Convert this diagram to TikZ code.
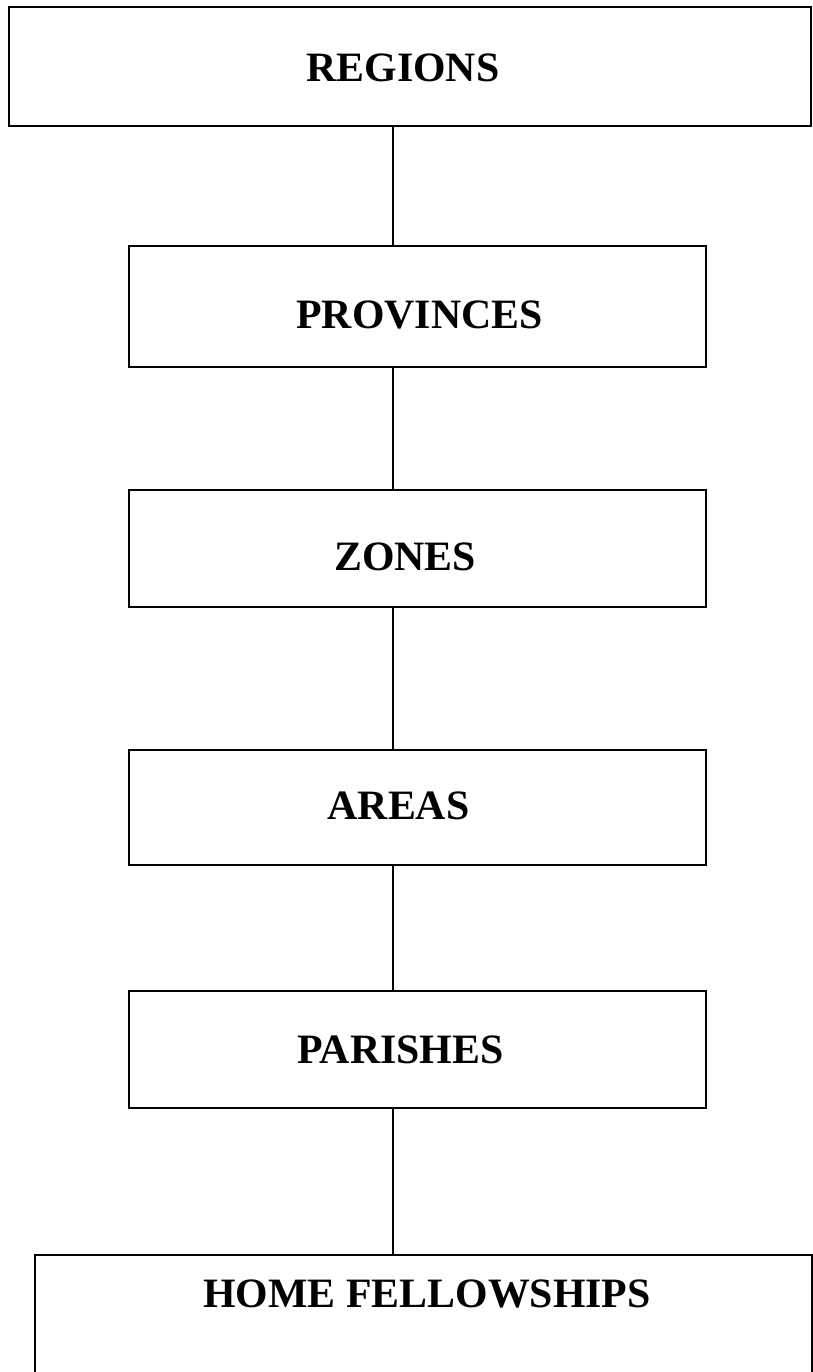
\documentclass[tikz,border=0pt]{standalone}
\usepackage{fontspec}
\setmainfont{Liberation Serif}
\tikzset{
  unit/.style={draw, line width=1.1pt, inner sep=0pt},
  tag/.style={inner sep=0pt, font=\fontsize{23.8}{28}\selectfont\bfseries},
  link/.style={line width=0.8pt}
}
\begin{document}
\begin{tikzpicture}[x=0.02cm,y=-0.02cm]
\useasboundingbox (0,0) rectangle (812,1372);

% boxes
\node[unit, minimum width=16.04cm, minimum height=2.38cm] (regions) at (410,66.5) {};
\node[unit, minimum width=11.54cm, minimum height=2.42cm] (provinces) at (417.5,306.5) {};
\node[unit, minimum width=11.54cm, minimum height=2.34cm] (zones) at (417.5,548.5) {};
\node[unit, minimum width=11.54cm, minimum height=2.30cm] (areas) at (417.5,807.5) {};
\node[unit, minimum width=11.54cm, minimum height=2.34cm] (parishes) at (417.5,1049.5) {};
\node[draw=none, minimum width=15.54cm, minimum height=2.4cm] (home) at (423.5,1315) {};

% labels
\node[tag] (regions text) at (403,68) {REGIONS};
\node[tag] (provinces text) at (419.5,315) {PROVINCES};
\node[tag] (zones text) at (405,557) {ZONES};
\node[tag] (areas text) at (398.5,805.5) {AREAS};
\node[tag] (parishes text) at (400.5,1050) {PARISHES};
\node[tag] (home text) at (427,1294) {HOME FELLOWSHIPS};

% open box at the bottom
\draw[line width=1.1pt] ([yshift=-3cm]home.south west) -- (home.north west)
  -- (home.north east) -- ([yshift=-3cm]home.south east);

% spine
\coordinate (spine) at (393,0);
\foreach \a/\b in {regions/provinces,provinces/zones,zones/areas,areas/parishes,parishes/home}
  \draw[link] (\a.south -| spine) -- (\b.north -| spine);
\end{tikzpicture}
\end{document}
